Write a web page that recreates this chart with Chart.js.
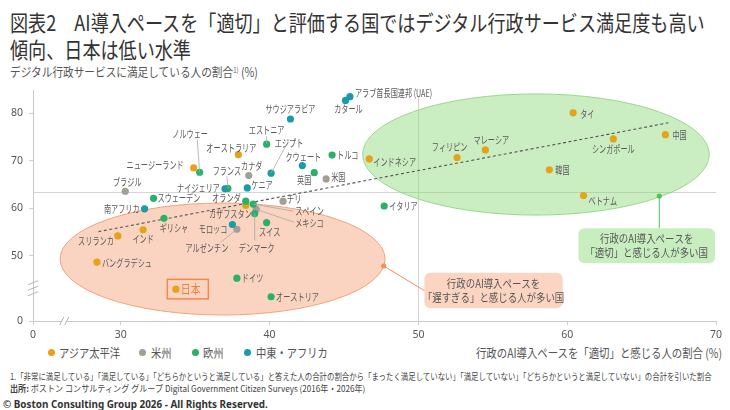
<!DOCTYPE html>
<html lang="ja">
<head>
<meta charset="utf-8">
<title>AI導入ペースとデジタル行政サービス満足度</title>
<script src="https://cdn.jsdelivr.net/npm/chart.js@4.4.1/dist/chart.umd.min.js"></script>
<style>
  html, body { margin: 0; padding: 0; background: #fff; }
  #page { position: relative; width: 730px; height: 410px; overflow: hidden;
          font-family: 'Noto Sans CJK JP', 'Noto Sans', sans-serif; color: #555; }
  .txt { position: absolute; white-space: nowrap; line-height: 1; transform-origin: 0 50%; }
  .dot { position: absolute; width: 7px; height: 7px; border-radius: 50%; }
  #chart { position: absolute; left: 0; top: 0; }
</style>
</head>
<body>
<div id="page">
  <div class="txt" id="title1" style="left:10px;top:10px;font-size:22px;color:#333">図表2　AI導入ペースを「適切」と評価する国ではデジタル行政サービス満足度も高い</div>
  <div class="txt" id="title2" style="left:10px;top:37px;font-size:22px;color:#333">傾向、日本は低い水準</div>
  <div class="txt" id="ytitle" style="left:10px;top:66px;font-size:12.5px">デジタル行政サービスに満足している人の割合<span style="font-size:7px;vertical-align:4px">1)</span> (%)</div>
  <div class="txt" id="xtitle" style="left:476px;top:347px;font-size:12.5px">行政のAI導入ペースを「適切」と感じる人の割合 (%)</div>

  <div class="dot" style="left:48px;top:349px;background:#E5A31A"></div>
  <div class="txt leg" style="left:59px;top:347px;font-size:12.5px">アジア太平洋</div>
  <div class="dot" style="left:139px;top:349px;background:#A59E95"></div>
  <div class="txt leg" style="left:151px;top:347px;font-size:12.5px">米州</div>
  <div class="dot" style="left:192px;top:349px;background:#29B069"></div>
  <div class="txt leg" style="left:203px;top:347px;font-size:12.5px">欧州</div>
  <div class="dot" style="left:244px;top:349px;background:#1A9BA8"></div>
  <div class="txt leg" style="left:256px;top:347px;font-size:12.5px">中東・アフリカ</div>

  <div class="txt" id="note1" style="left:10px;top:371.5px;font-size:9px;color:#444">1.「非常に満足している」「満足している」「どちらかというと満足している」と答えた人の合計の割合から「まったく満足していない」「満足していない」「どちらかというと満足していない」の合計を引いた割合</div>
  <div class="txt" id="note2" style="left:10px;top:384px;font-size:9px;color:#444"><b>出所:</b> ボストン コンサルティング グループ Digital Government Citizen Surveys (2016年・2026年)</div>
  <div class="txt" id="copy" style="left:3px;top:397.5px;font-size:11px;color:#333;font-weight:bold;font-family:'Noto Sans',sans-serif">© Boston Consulting Group 2026 - All Rights Reserved.</div>

  <canvas id="chart" width="730" height="410"></canvas>
</div>
<script>
// ── Data ──────────────────────────────────────────────────────────────
const asiaNames = ['タイ', '中国', 'シンガポール', 'マレーシア', 'フィリピン', '韓国', 'ベトナム', 'インドネシア',
  'オーストラリア', 'ニュージーランド', 'カザフスタン', 'インド', 'スリランカ', 'バングラデシュ', '日本'];
const asiaX = [60.4, 66.6, 63.1, 54.5, 52.6, 58.8, 61.1, 46.7, 37.9, 34.9, 38.4, 31.5, 29.8, 28.4, 33.7];
const asiaY = [80.1, 75.5, 74.6, 72.3, 70.7, 68.1, 62.7, 70.4, 71.3, 68.5, 60.6, 55.5, 54.2, 48.7, 43.0];

const amerNames = ['ブラジル', 'カナダ', '米国', 'チリ', 'メキシコ', 'アルゼンチン'];
const amerX = [30.3, 38.6, 43.8, 40.9, 39.1, 37.8];
const amerY = [63.6, 66.9, 66.2, 61.5, 59.8, 55.6];

const euroNames = ['ノルウェー', 'エストニア', 'トルコ', '英国', 'フランス', 'スウェーデン', 'オランダ', 'スペイン',
  'デンマーク', 'スイス', 'ギリシャ', 'イタリア', 'ドイツ', 'オーストリア'];
const euroX = [35.3, 39.8, 44.2, 43.0, 37.2, 32.2, 38.4, 38.9, 39.0, 39.8, 32.9, 47.7, 37.8, 40.1];
const euroY = [67.6, 73.5, 71.2, 67.5, 64.2, 62.1, 61.5, 60.9, 58.9, 57.0, 57.9, 60.5, 45.3, 41.4];

const meaNames = ['アラブ首長国連邦 (UAE)', 'カタール', 'サウジアラビア', 'エジプト', 'クウェート', 'ナイジェリア',
  'ケニア', '南アフリカ', 'モロッコ'];
const meaX = [45.4, 45.1, 41.4, 40.1, 42.2, 37.0, 38.5, 31.6, 37.5];
const meaY = [83.5, 82.7, 78.8, 67.4, 69.0, 64.1, 64.3, 59.9, 56.6];

const trendX = [28.5, 66.8];
const trendY = [55.1, 78.0];

const xTicks = [30, 40, 50, 60, 70];
const yTicks = [50, 60, 70, 80];
const refX = 50, refY = 63.4;

// ── Axis ranges / shapes (axis units) ─────────────────────────────────
const X_MIN = 24.1, X_MAX = 70, Y_MIN = 36.3, Y_MAX = 84.9;
const X_BREAK = 26.2, Y_BREAK = 43.2;
const SLOW = { cx: 36.84, cy: 49.34, rx: 10.92, ry: 11.78, fill: 'rgba(245,160,115,0.45)', stroke: '#f2a27a' };
const GOOD = { cx: 57.9, cy: 71.33, rx: 11.65, ry: 12.75, fill: 'rgba(140,215,120,0.45)', stroke: '#97d98c' };
const GOOD_BOX = { x1: 60.75, x2: 69.93, y1: 55.8, y2: 48.44, fill: '#c8eec0',
  lines: ['行政のAI導入ペースを', '「適切」と感じる人が多い国'] };
const SLOW_BOX = { x1: 50.4, x2: 59.7, y1: 46.46, y2: 38.97, fill: '#fbd5c2',
  lines: ['行政のAI導入ペースを', '「遅すぎる」と感じる人が多い国'] };
const GOOD_LINK = { x1: 66.19, y1: 62.6, x2: 66.19, y2: 55.8, color: '#55c257' };
const SLOW_LINK = { x1: 47.67, y1: 47.87, x2: 50.4, y2: 42.7, color: '#f0915a' };

const COLORS = { asia: '#E5A31A', amer: '#A59E95', euro: '#29B069', mea: '#1A9BA8' };

// label placement: [dx, dy, align, leaderDx, leaderDy] in px from the point
const LABEL_LAYOUT = {
  'タイ': [7, 1, 'left'], '中国': [7, 0, 'left'], 'シンガポール': [0, 10, 'center'],
  'マレーシア': [6, -10, 'center'], 'フィリピン': [-7.5, -10, 'center'], '韓国': [6, 0, 'left'],
  'ベトナム': [5, 5, 'left'], 'インドネシア': [4, 3, 'left'], 'オーストラリア': [-7, -7, 'center'],
  'ニュージーランド': [-10, -3, 'right'], 'カザフスタン': [6, 9, 'right'], 'インド': [0, 9, 'center'],
  'スリランカ': [-4, 5, 'right'], 'バングラデシュ': [5, 1, 'left'], '日本': [5, 0, 'left'],
  'ブラジル': [2, -9, 'center'], 'カナダ': [3, -10, 'center'], '米国': [5, -2, 'left'],
  'チリ': [4, -2, 'left'], 'メキシコ': [39, 14, 'left', 38, 13], 'アルゼンチン': [-30, 18.5, 'center', -16, 13],
  'ノルウェー': [-9.5, -38, 'center', -2.5, -33], 'エストニア': [0, -14, 'center', 0, -8],
  'トルコ': [5, 0, 'left'], '英国': [-10, 7, 'center'], 'フランス': [-1, -17, 'center', -1, -12],
  'スウェーデン': [4, 0, 'left'], 'オランダ': [-5, -3.5, 'right'], 'スペイン': [42, 6.5, 'left', 40, 7],
  'デンマーク': [2, 34, 'center', 0, 27], 'スイス': [3, 9, 'center'], 'ギリシャ': [10, 10, 'center'],
  'イタリア': [5, 0, 'left'], 'ドイツ': [5, 0, 'left'], 'オーストリア': [5, 0, 'left'],
  'アラブ首長国連邦 (UAE)': [5, -4, 'left'], 'カタール': [3, 9, 'center'], 'サウジアラビア': [0, -10, 'center'],
  'エジプト': [18, -30, 'center', 14, -26], 'クウェート': [1, -9, 'center'], 'ナイジェリア': [-5, -1, 'right'],
  'ケニア': [4, -3, 'left'], '南アフリカ': [-5, 0, 'right'], 'モロッコ': [-5, 4.5, 'right'],
};
const JP_FONT = '"Noto Sans CJK JP", "Noto Sans", sans-serif';

// ── Helpers ───────────────────────────────────────────────────────────
function toPoints(xs, ys) { return xs.map((x, i) => ({ x, y: ys[i] })); }

function squeezeText(ctx, text, x, y, align, sx) {
  ctx.save();
  ctx.translate(x, y);
  ctx.scale(sx, 1);
  ctx.textAlign = align;
  ctx.textBaseline = 'middle';
  ctx.fillText(text, 0, 0);
  ctx.restore();
}

function drawEllipse(ctx, xs, ys, e) {
  const cx = xs.getPixelForValue(e.cx), cy = ys.getPixelForValue(e.cy);
  const rx = xs.getPixelForValue(e.cx + e.rx) - cx;
  const ry = cy - ys.getPixelForValue(e.cy + e.ry);
  ctx.beginPath();
  ctx.ellipse(cx, cy, rx, ry, 0, 0, Math.PI * 2);
  ctx.fillStyle = e.fill; ctx.fill();
  ctx.strokeStyle = e.stroke; ctx.lineWidth = 1; ctx.stroke();
}

function drawBox(ctx, xs, ys, b) {
  const x1 = xs.getPixelForValue(b.x1), x2 = xs.getPixelForValue(b.x2);
  const y1 = ys.getPixelForValue(b.y1), y2 = ys.getPixelForValue(b.y2);
  ctx.beginPath();
  ctx.roundRect(x1, y1, x2 - x1, y2 - y1, 6);
  ctx.fillStyle = b.fill; ctx.fill();
  ctx.fillStyle = '#555';
  ctx.font = '11.5px ' + JP_FONT;
  const cx = (x1 + x2) / 2, cy = (y1 + y2) / 2;
  b.lines.forEach((t, i) => squeezeText(ctx, t, cx, cy + (i - 0.5) * 14, 'center', 0.82));
}

function drawLink(ctx, xs, ys, l) {
  const x1 = xs.getPixelForValue(l.x1), y1 = ys.getPixelForValue(l.y1);
  ctx.strokeStyle = l.color; ctx.lineWidth = 1;
  ctx.beginPath(); ctx.moveTo(x1, y1);
  ctx.lineTo(xs.getPixelForValue(l.x2), ys.getPixelForValue(l.y2)); ctx.stroke();
  ctx.fillStyle = l.color;
  ctx.beginPath(); ctx.arc(x1, y1, 2.6, 0, Math.PI * 2); ctx.fill();
}

// ── Plugins ───────────────────────────────────────────────────────────
const decorations = {
  id: 'decorations',
  beforeDatasetsDraw(chart) {
    const { ctx, chartArea: a, scales: { x, y } } = chart;
    ctx.save();
    ctx.strokeStyle = '#d4d4d4'; ctx.lineWidth = 1;
    const hy = Math.round(y.getPixelForValue(refY)) + 0.5;
    const vx = Math.round(x.getPixelForValue(refX)) + 0.5;
    ctx.beginPath();
    ctx.moveTo(a.left, hy); ctx.lineTo(a.right, hy);
    ctx.moveTo(vx, a.top + 6); ctx.lineTo(vx, a.bottom);
    ctx.stroke();
    drawEllipse(ctx, x, y, SLOW);
    drawEllipse(ctx, x, y, GOOD);
    ctx.restore();
  },
  afterDatasetsDraw(chart) {
    const { ctx, chartArea: a, scales: { x, y } } = chart;
    ctx.save();
    // point labels
    chart.data.datasets.forEach((ds, di) => {
      if (!ds.names) return;
      const meta = chart.getDatasetMeta(di);
      ds.names.forEach((name, i) => {
        const pt = meta.data[i];
        const [dx, dy, align, lx, ly] = LABEL_LAYOUT[name] || [5, 0, 'left'];
        if (lx !== undefined) {
          ctx.strokeStyle = '#a8a8a8'; ctx.lineWidth = 0.8;
          ctx.beginPath(); ctx.moveTo(pt.x, pt.y); ctx.lineTo(pt.x + lx, pt.y + ly); ctx.stroke();
        }
        if (name === '日本') {
          ctx.fillStyle = '#ec7f3c';
          ctx.font = '12px ' + JP_FONT;
          squeezeText(ctx, name, pt.x + dx, pt.y + dy, align, 0.82);
          ctx.strokeStyle = '#ee8a4c'; ctx.lineWidth = 1.5;
          ctx.strokeRect(pt.x - 8.5, pt.y - 9.8, 41, 19.5);
        } else {
          ctx.fillStyle = '#5a5a5a';
          ctx.font = '10.5px ' + JP_FONT;
          squeezeText(ctx, name, pt.x + dx, pt.y + dy, align, 0.68);
        }
      });
    });
    // call-outs
    drawLink(ctx, x, y, GOOD_LINK);
    drawLink(ctx, x, y, SLOW_LINK);
    drawBox(ctx, x, y, GOOD_BOX);
    drawBox(ctx, x, y, SLOW_BOX);
    // axis breaks
    const bx = x.getPixelForValue(X_BREAK), by = y.getPixelForValue(Y_BREAK);
    ctx.fillStyle = '#fff';
    ctx.fillRect(bx - 2.5, a.bottom - 2, 5, 4);
    ctx.strokeStyle = '#b5b5b5'; ctx.lineWidth = 1;
    ctx.beginPath();
    [-2.5, 2.5].forEach(o => { ctx.moveTo(bx + o - 2, a.bottom + 4); ctx.lineTo(bx + o + 2, a.bottom - 4); });
    [-5.5, 0, 5.5].forEach(o => { ctx.moveTo(a.left - 5, by + o + 2); ctx.lineTo(a.left + 5, by + o - 2); });
    ctx.stroke();
    ctx.restore();
  },
};

// ── Chart ─────────────────────────────────────────────────────────────
const pointStyle = color => ({ backgroundColor: color, borderWidth: 0, pointRadius: 3.6, pointHoverRadius: 3.6 });

new Chart(document.getElementById('chart'), {
  type: 'scatter',
  data: {
    datasets: [
      { label: '中東・アフリカ', names: meaNames, data: toPoints(meaX, meaY), ...pointStyle(COLORS.mea) },
      { label: '欧州', names: euroNames, data: toPoints(euroX, euroY), ...pointStyle(COLORS.euro) },
      { label: '米州', names: amerNames, data: toPoints(amerX, amerY), ...pointStyle(COLORS.amer) },
      { label: 'アジア太平洋', names: asiaNames, data: toPoints(asiaX, asiaY), ...pointStyle(COLORS.asia) },
      { type: 'line', label: 'trend', data: toPoints(trendX, trendY), borderColor: '#555', borderWidth: 1.1,
        borderDash: [3, 2.5], pointRadius: 0, fill: false },
    ],
  },
  options: {
    responsive: false,
    animation: false,
    events: [],
    layout: { padding: { left: 0, right: 14, top: 90, bottom: 59 } },
    plugins: { legend: { display: false }, tooltip: { enabled: false } },
    scales: {
      x: {
        type: 'linear', min: X_MIN, max: X_MAX,
        afterBuildTicks: s => { s.ticks = [X_MIN, ...xTicks].map(value => ({ value })); },
        afterFit: s => { s.height = 30; },
        ticks: { color: '#555', padding: 4, font: { family: 'Noto Sans', size: 10.5 },
          callback: (v, i) => (i === 0 ? '0' : v) },
        grid: { display: true, drawOnChartArea: false, drawTicks: true, tickLength: 4, color: '#cfcfcf' },
        border: { color: '#c8c8c8' },
      },
      y: {
        type: 'linear', min: Y_MIN, max: Y_MAX,
        afterBuildTicks: s => { s.ticks = [Y_MIN, ...yTicks].map(value => ({ value })); },
        afterFit: s => { s.width = 33; },
        ticks: { color: '#555', padding: 6, font: { family: 'Noto Sans', size: 10.5 },
          callback: (v, i) => (i === 0 ? '0' : v) },
        grid: { display: true, drawOnChartArea: false, drawTicks: true, tickLength: 4, color: '#cfcfcf' },
        border: { color: '#c8c8c8' },
      },
    },
  },
  plugins: [decorations],
});

// ── Fit the condensed HTML text to the widths seen in the reference ──
function fit(id, width, origin) {
  const el = document.getElementById(id);
  const s = width / el.scrollWidth;
  el.style.transformOrigin = origin || '0 50%';
  el.style.transform = `scaleX(${s})`;
  return s;
}
const ts = fit('title1', 695);
document.getElementById('title2').style.transform = `scaleX(${ts})`;
fit('ytitle', 248);
const xt = document.getElementById('xtitle');
xt.style.left = (722 - xt.scrollWidth) + 'px';
fit('xtitle', 246, '100% 50%');
fit('note1', 702);
fit('note2', 355);
fit('copy', 265);
document.querySelectorAll('.leg').forEach(el => { el.style.transform = 'scaleX(0.82)'; });
</script>
</body>
</html>
